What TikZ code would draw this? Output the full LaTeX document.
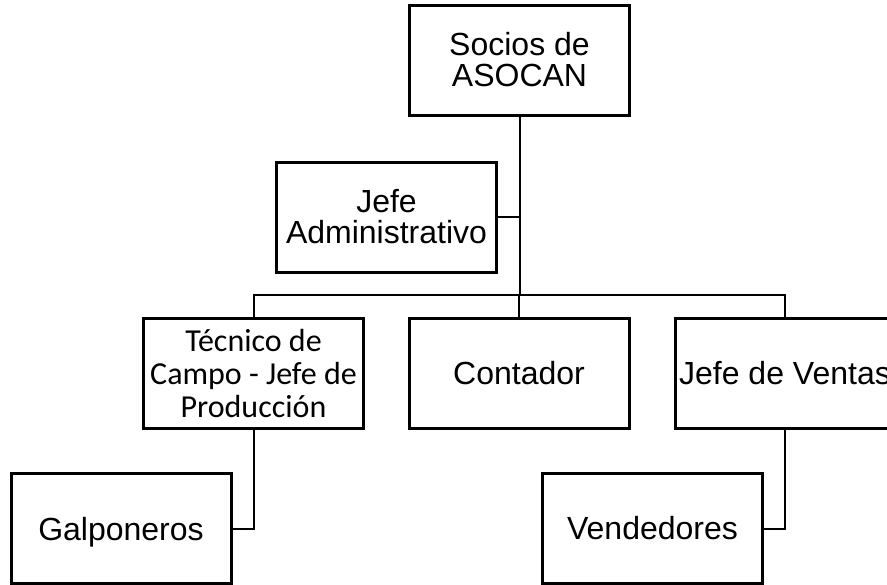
\documentclass[tikz,border=0pt]{standalone}
\usepackage{fontspec}
\setmainfont{Liberation Sans}
\newfontfamily\calibri{Carlito}

\begin{document}
\begin{tikzpicture}[x=0.5pt,y=-0.5pt,
  caja/.style={draw,line width=1.5pt,minimum width=110pt,minimum height=55pt,
    inner sep=0pt,align=center,font=\fontsize{16}{15.5}\selectfont},
  linea/.style={line width=1pt}]
\useasboundingbox (0,0) rectangle (887,584);
\clip (0,0) rectangle (887,584);

\node[caja] (socios) at (519.5,60) {Socios de\\ASOCAN};
\node[caja] (admin) at (386.5,217) {Jefe\\Administrativo};
\node[caja,font=\calibri\fontsize{16}{16.5}\selectfont] (tecnico) at (253.5,373) {Técnico de\\Campo - Jefe de\\Producción};
\node[caja] (contador) at (519,373) {Contador};
\node[caja] (ventas) at (785,373) {Jefe de Ventas};
\node[caja,text depth=0pt] (galpon) at (121,528.5) {Galponeros};
\node[caja] (vende) at (652.5,528.5) {Vendedores};

\coordinate (bus) at (519.5,295);
\draw[linea] (socios.south) -- (bus);
\draw[linea] (admin.east) -- (admin.east -| bus);
\draw[linea] (tecnico.north) -- (tecnico.north |- bus) -- (ventas.north |- bus) -- (ventas.north);
\draw[linea] (contador.north) -- (contador.north |- bus);
\draw[linea] (tecnico.south) -- (tecnico.south |- galpon.east) -- (galpon.east);
\draw[linea] (ventas.south) -- (ventas.south |- vende.east) -- (vende.east);
\end{tikzpicture}
\end{document}
